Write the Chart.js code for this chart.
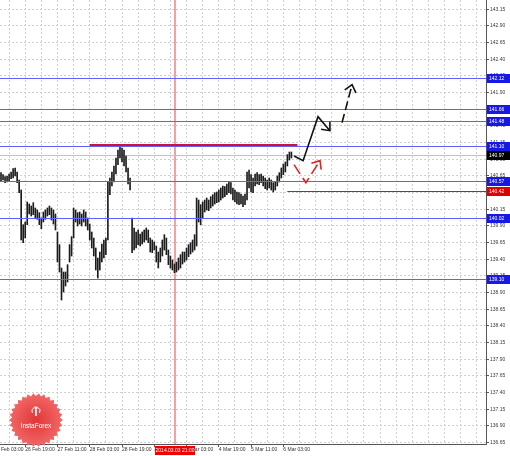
<!DOCTYPE html>
<html>
<head>
<meta charset="utf-8">
<script src="https://cdn.jsdelivr.net/npm/chart.js@4.4.1/dist/chart.umd.min.js"></script>
<style>
    html, body { margin: 0; padding: 0; background: #fff; }
</style>
</head>
<body>
<canvas id="chart" width="510" height="456"></canvas>
<script>
// H1 bars (high / low per bar)
const highs = [
    140.70, 140.67, 140.64, 140.65, 140.68, 140.71, 140.76, 140.77, 140.71, 140.59,
    140.44, 139.92, 139.96, 140.26, 140.23, 140.20, 140.25, 140.17, 140.14, 140.10,
    140.02, 140.11, 140.14, 140.17, 140.20, 140.17, 140.14, 140.08, 139.81, 139.62,
    139.27, 139.21, 139.21, 139.32, 139.62, 139.74, 140.17, 140.14, 140.10, 140.11,
    140.08, 140.14, 140.11, 140.02, 139.93, 139.81, 139.72, 139.57, 139.42, 139.51,
    139.63, 139.69, 139.72, 140.56, 140.62, 140.71, 140.80, 140.92, 141.04, 141.12,
    141.07, 141.04, 140.95, 140.77, 140.62, 140.02, 139.87, 139.81, 139.84, 139.78,
    139.81, 139.84, 139.87, 139.84, 139.72, 139.69, 139.66, 139.60, 139.51, 139.57,
    139.69, 139.77, 139.72, 139.54, 139.45, 139.39, 139.33, 139.36, 139.42, 139.47,
    139.51, 139.51, 139.57, 139.62, 139.65, 139.69, 139.77, 140.32, 140.29, 140.22,
    140.26, 140.29, 140.32, 140.29, 140.34, 140.37, 140.40, 140.41, 140.44, 140.47,
    140.50, 140.49, 140.53, 140.56, 140.55, 140.47, 140.44, 140.41, 140.40, 140.38,
    140.35, 140.38, 140.71, 140.74, 140.67, 140.62, 140.68, 140.70, 140.67, 140.68,
    140.65, 140.62, 140.59, 140.62, 140.59, 140.55, 140.56, 140.65, 140.70, 140.77,
    140.83, 140.86, 140.97, 141.01, 141.01
];
const lows = [
    140.58, 140.59, 140.55, 140.56, 140.58, 140.61, 140.62, 140.65, 140.55, 140.40,
    139.69, 139.65, 139.72, 139.92, 140.08, 140.05, 140.07, 140.02, 140.00, 139.92,
    139.86, 139.96, 140.00, 140.05, 140.07, 139.99, 139.93, 139.84, 139.36, 139.21,
    138.79, 138.91, 139.00, 139.06, 139.36, 139.45, 139.72, 139.96, 139.90, 139.93,
    139.90, 139.96, 139.90, 139.84, 139.69, 139.57, 139.45, 139.24, 139.12, 139.24,
    139.36, 139.42, 139.47, 139.69, 140.37, 140.50, 140.56, 140.68, 140.82, 140.92,
    140.86, 140.80, 140.71, 140.53, 140.44, 139.50, 139.54, 139.57, 139.62, 139.60,
    139.63, 139.66, 139.69, 139.65, 139.51, 139.50, 139.54, 139.36, 139.27, 139.36,
    139.45, 139.54, 139.47, 139.32, 139.27, 139.24, 139.20, 139.21, 139.24, 139.27,
    139.33, 139.36, 139.39, 139.44, 139.48, 139.51, 139.54, 139.60, 139.96, 139.92,
    140.02, 140.11, 140.14, 140.13, 140.17, 140.20, 140.23, 140.25, 140.26, 140.29,
    140.32, 140.34, 140.37, 140.40, 140.38, 140.29, 140.26, 140.23, 140.22, 140.23,
    140.19, 140.22, 140.29, 140.47, 140.41, 140.40, 140.50, 140.53, 140.52, 140.55,
    140.50, 140.46, 140.44, 140.47, 140.44, 140.41, 140.44, 140.50, 140.56, 140.62,
    140.67, 140.71, 140.80, 140.89, 140.92
];

const slotCount = 241; // bars + empty space on the right
const timeLabels = {
    0: "Feb 03:00", 12: "26 Feb 19:00", 28: "27 Feb 11:00", 44: "28 Feb 03:00",
    60: "28 Feb 19:00", 76: "3 Mar 11:00", 92: "4 Mar 03:00", 108: "4 Mar 19:00",
    124: "5 Mar 11:00", 140: "6 Mar 03:00",
};
const priceTicks = [
    136.65, 136.90, 137.15, 137.40, 137.65, 137.90, 138.15, 138.40, 138.65,
    138.90, 139.15, 139.40, 139.65, 139.90, 140.15, 140.40, 140.65, 140.90,
    141.15, 141.40, 141.65, 141.90, 142.15, 142.40, 142.65, 142.90, 143.15
];

const blueLevels = [142.12, 141.66, 141.48, 141.10, 140.57, 140.02, 139.10];
const supportLevel = { price: 140.42, from: 142 };
const resistSegment = { price: 141.12, from: 44, to: 147 };
const bidPrice = 140.97;
const cursorIndex = 86.5;
const cursorLabel = "2014.03.03 21:00";

// forecast arrows: [bar index, price]
const arrowSolid = [[145.3, 140.95], [149.8, 140.88], [157.2, 141.54], [163.1, 141.33]];
const arrowDashed = [[169.1, 141.45], [174.1, 142.02]];
const arrowRed = [[145.3, 140.82], [151.2, 140.55], [158.2, 140.88]];

const FONT = '"Liberation Sans", Arial, sans-serif';
const crisp = (v) => Math.round(v) + 0.5;

const drawArrow = (ctx, x, y, pts, color, dash) => {
    const px = pts.map(([i, p]) => [x.getPixelForValue(i), y.getPixelForValue(p)]);
    ctx.save();
    ctx.strokeStyle = color;
    ctx.lineWidth = 1.6;
    ctx.lineJoin = "miter";
    ctx.setLineDash(dash);
    ctx.beginPath();
    px.forEach(([a, b], k) => (k ? ctx.lineTo(a, b) : ctx.moveTo(a, b)));
    ctx.stroke();
    ctx.setLineDash([]);
    const [x1, y1] = px[px.length - 2];
    const [x2, y2] = px[px.length - 1];
    const ang = Math.atan2(y1 - y2, x1 - x2);
    ctx.beginPath();
    ctx.moveTo(x2 + 9 * Math.cos(ang + 0.7), y2 + 9 * Math.sin(ang + 0.7));
    ctx.lineTo(x2, y2);
    ctx.lineTo(x2 + 9 * Math.cos(ang - 0.7), y2 + 9 * Math.sin(ang - 0.7));
    ctx.stroke();
    ctx.restore();
};

const priceBox = (ctx, left, py, text, fill) => {
    ctx.fillStyle = fill;
    ctx.fillRect(left + 1, Math.round(py) - 4, 23, 9);
    ctx.fillStyle = "#fff";
    ctx.font = "5px " + FONT;
    ctx.textAlign = "left";
    ctx.textBaseline = "middle";
    ctx.fillText(text, left + 3, Math.round(py) + 0.5);
};

const drawLogo = (ctx) => {
    const cx = 36, cy = 420, rOut = 27, rIn = 24, n = 30;
    ctx.save();
    const g = ctx.createRadialGradient(cx, cy, 2, cx, cy, rOut);
    g.addColorStop(0, "#e23a3a");
    g.addColorStop(1, "#f26868");
    ctx.fillStyle = g;
    ctx.beginPath();
    for (let k = 0; k < n * 2; k++) {
        const r = k % 2 ? rIn : rOut;
        const a = (Math.PI * k) / n;
        const px = cx + r * Math.cos(a), py = cy + r * Math.sin(a);
        k ? ctx.lineTo(px, py) : ctx.moveTo(px, py);
    }
    ctx.closePath();
    ctx.fill();
    // emblem
    ctx.strokeStyle = "#fff";
    ctx.fillStyle = "#fff";
    ctx.lineWidth = 1;
    ctx.beginPath();
    ctx.arc(cx, cy - 9, 4, Math.PI * 0.15, Math.PI * 0.85, true);
    ctx.stroke();
    ctx.fillRect(cx - 0.8, cy - 10, 1.6, 6);
    ctx.beginPath();
    ctx.arc(cx, cy - 11.5, 1.3, 0, Math.PI * 2);
    ctx.fill();
    ctx.font = "6.5px " + FONT;
    ctx.textAlign = "center";
    ctx.textBaseline = "middle";
    ctx.fillText("InstaForex", cx, cy + 6);
    ctx.restore();
};

const overlay = {
    id: "overlay",
    beforeDatasetsDraw(chart) {
        const { ctx, chartArea: a, scales: { x } } = chart;
        ctx.save();
        ctx.strokeStyle = "#f6a0a0";
        ctx.lineWidth = 2;
        const cx = Math.round(x.getPixelForValue(cursorIndex));
        ctx.beginPath();
        ctx.moveTo(cx, a.top);
        ctx.lineTo(cx, a.bottom);
        ctx.stroke();
        // bid line
        ctx.strokeStyle = "#c4c4c4";
        ctx.lineWidth = 1;
        const by = crisp(chart.scales.y.getPixelForValue(bidPrice));
        ctx.beginPath();
        ctx.moveTo(a.left, by);
        ctx.lineTo(a.right, by);
        ctx.stroke();
        ctx.restore();
    },
    afterDatasetsDraw(chart) {
        const { ctx, chartArea: a, scales: { x, y } } = chart;
        ctx.save();
        ctx.beginPath();
        ctx.rect(a.left, a.top, a.right - a.left, a.bottom - a.top);
        ctx.clip();

        ctx.strokeStyle = "rgb(96,96,255)";
        ctx.lineWidth = 1;
        blueLevels.forEach((p) => {
            const py = crisp(y.getPixelForValue(p));
            ctx.beginPath();
            ctx.moveTo(a.left, py);
            ctx.lineTo(a.right, py);
            ctx.stroke();
        });

        ctx.strokeStyle = "#e01010";
        let py = crisp(y.getPixelForValue(supportLevel.price));
        ctx.beginPath();
        ctx.moveTo(x.getPixelForValue(supportLevel.from), py);
        ctx.lineTo(a.right, py);
        ctx.stroke();

        ctx.strokeStyle = "#c8143c";
        ctx.lineWidth = 2;
        py = Math.round(y.getPixelForValue(resistSegment.price));
        ctx.beginPath();
        ctx.moveTo(x.getPixelForValue(resistSegment.from), py);
        ctx.lineTo(x.getPixelForValue(resistSegment.to), py);
        ctx.stroke();

        drawArrow(ctx, x, y, arrowRed, "#e82020", [11, 5]);
        drawArrow(ctx, x, y, arrowSolid, "#111", []);
        drawArrow(ctx, x, y, arrowDashed, "#111", [9, 4]);
        ctx.restore();
    },
    afterDraw(chart) {
        const { ctx, chartArea: a, scales: { x, y } } = chart;
        ctx.save();
        blueLevels.forEach((p) => priceBox(ctx, a.right, y.getPixelForValue(p), p.toFixed(2), "#1818e6"));
        priceBox(ctx, a.right, y.getPixelForValue(bidPrice), bidPrice.toFixed(2), "#000");
        priceBox(ctx, a.right, y.getPixelForValue(supportLevel.price), supportLevel.price.toFixed(2), "#e00000");

        const cx = x.getPixelForValue(cursorIndex);
        ctx.fillStyle = "#f00000";
        ctx.fillRect(Math.round(cx) - 20, a.bottom + 2, 40, 9);
        ctx.fillStyle = "#fff";
        ctx.font = "5px " + FONT;
        ctx.textAlign = "center";
        ctx.textBaseline = "middle";
        ctx.fillText(cursorLabel, Math.round(cx), a.bottom + 6.5);
        ctx.restore();

        drawLogo(ctx);
    },
};

const labels = Array.from({ length: slotCount }, (_, i) => i);
const isGridSlot = (i) => i >= 4 && (i - 4) % 8 === 0;

new Chart(document.getElementById("chart"), {
    type: "bar",
    data: {
        labels: labels,
        datasets: [
            {
                data: highs.map((h, i) => [lows[i], h]),
                backgroundColor: "#1c1c1c",
                borderWidth: 0,
                barThickness: 1,
                grouped: false,
            },
        ],
    },
    options: {
        responsive: false,
        animation: false,
        events: [],
        layout: { padding: 0 },
        plugins: {
            legend: { display: false },
            tooltip: { enabled: false },
        },
        scales: {
            x: {
                type: "category",
                offset: true,
                grid: {
                    offset: false,
                    color: (c) => (isGridSlot(c.index) ? "#cfcfcf" : "rgba(0,0,0,0)"),
                    tickColor: (c) => (timeLabels[c.index] && c.index > 0 ? "#555" : "rgba(0,0,0,0)"),
                    tickLength: 3,
                },
                border: { color: "#555", dash: [2, 2] },
                ticks: {
                    autoSkip: false,
                    maxRotation: 0,
                    minRotation: 0,
                    align: "start",
                    padding: 0,
                    color: "#333",
                    font: { family: FONT, size: 5 },
                    callback: (v, i) => timeLabels[i] || "",
                },
                afterFit: (s) => {
                    s.height = 12;
                    s.paddingLeft = 0;
                    s.paddingRight = 0;
                },
            },
            y: {
                position: "right",
                min: 136.63,
                max: 143.29,
                afterBuildTicks: (s) => {
                    s.ticks = priceTicks.map((v) => ({ value: v }));
                },
                grid: { color: "#cfcfcf", tickColor: "#555", tickLength: 3 },
                border: { color: "#555", dash: [2, 2] },
                ticks: {
                    padding: 1,
                    color: "#3a3a3a",
                    font: { family: FONT, size: 5 },
                    callback: (v) => Number(v).toFixed(2),
                },
                afterFit: (s) => {
                    s.width = 24;
                    s.paddingTop = 0;
                    s.paddingBottom = 0;
                },
            },
        },
    },
    plugins: [overlay],
});
</script>
</body>
</html>
